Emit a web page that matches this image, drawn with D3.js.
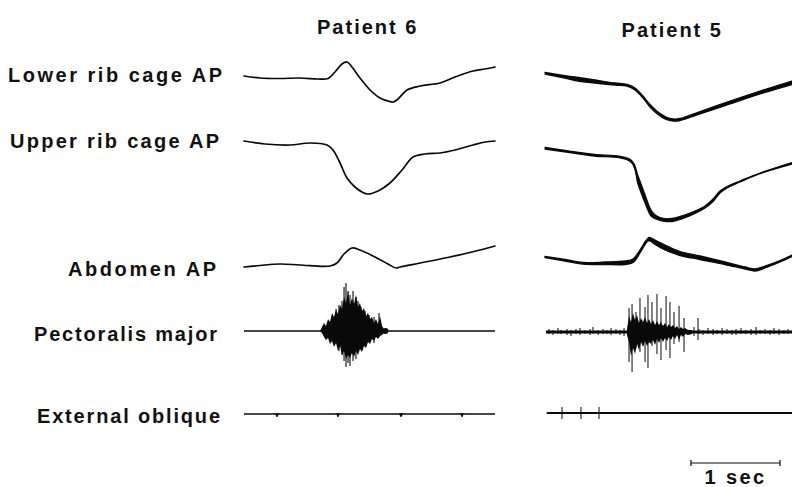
<!DOCTYPE html>
<html><head><meta charset="utf-8">
<script src="https://cdn.jsdelivr.net/npm/d3@7"></script>
<style>
html,body{margin:0;padding:0;background:#fff;}
text{font-family:"Liberation Sans",Arial,sans-serif;font-weight:700;fill:#111;}
</style></head>
<body><svg id="c" width="792" height="487"></svg>
<script>
// ---------------- DATA ----------------
const patients = ["Patient 6", "Patient 5"];
const channels = ["Lower rib cage AP", "Upper rib cage AP", "Abdomen AP", "Pectoralis major", "External oblique"];
const scaleBarSec = 1;
const scaleBarLabel = "1 sec";

// Patient 6 (time s, displacement in arbitrary units, up = positive)
const p6LowerT = [0,0.180,0.404,0.629,0.831,0.944,1.022,1.101,1.157,1.213,1.303,1.416,1.528,1.618,1.674,1.730,1.831,1.978,2.202,2.371,2.573,2.708,2.820];
const p6LowerV = [2,0,-0.5,0,-1,-0.5,6,14,16,11,0,-12,-20,-23,-24,-21,-12,-8,-5,1,7,9,11];

const p6UpperT = [0,0.236,0.517,0.742,0.933,1.000,1.079,1.157,1.247,1.326,1.393,1.506,1.640,1.775,1.899,2.034,2.202,2.371,2.573,2.708,2.820];
const p6UpperV = [4,1,0,2,0,-5,-18,-33,-42,-47,-49,-46,-38,-25,-12,-9,-8,-5,0,3,4];

const p6AbdT = [0,0.180,0.404,0.629,0.966,1.045,1.124,1.213,1.303,1.472,1.618,1.708,1.753,1.978,2.315,2.652,2.820];
const p6AbdV = [-2,-0.5,1,0,-1,2,11,17,15,8,1,-3,-2,2,8,15,19];

// EMG envelope: [time, upward amplitude, downward amplitude]
const p6PecEnv = [[0.854,0,0],[0.876,4,2],[0.899,8,6],[0.921,5,9],[0.944,12,7],[0.966,9,13],[0.989,18,10],[1.011,14,16],[1.034,21,12],[1.056,17,20],[1.079,26,15],[1.101,22,24],[1.124,34,20],[1.146,28,28],[1.169,40,24],[1.191,26,27],[1.213,33,22],[1.236,27,26],[1.258,36,20],[1.281,24,24],[1.303,28,18],[1.326,20,21],[1.348,23,15],[1.371,15,17],[1.393,18,11],[1.416,12,13],[1.438,14,8],[1.461,8,10],[1.483,12,6],[1.506,7,8],[1.528,15,5],[1.551,5,4],[1.573,2,2],[1.596,0,0]];
const p6PecSpikes = [[1.034,22,10],[1.067,26,20],[1.101,30,24],[1.124,44,30],[1.146,48,36],[1.169,40,32],[1.191,36,35],[1.225,40,30],[1.258,34,28],[1.281,30,20],[1.315,24,18],[1.360,20,14],[1.404,16,10],[1.461,14,12],[1.517,18,6]];
const p6PecBlob = [[1.590,0]];
const p6ExtSpikes = [[0.371,1,3],[1.056,1,3],[1.764,1,3],[2.449,1,3]];

// Patient 5 (two pen edges: top, bottom)
const p5LowerT = [0,0.169,0.337,0.562,0.787,0.921,1.011,1.101,1.180,1.270,1.360,1.438,1.517,1.742,2.079,2.416,2.775];
const p5LowerTop = [5.5,3,1,-2,-5,-6.5,-10,-18,-26.5,-34,-39,-41,-40.5,-33.5,-23,-13,-3];
const p5LowerBot = [4,1,-2.5,-5,-7,-8,-12,-20,-29,-36.5,-41.5,-43,-42.5,-36,-26,-16,-6.5];

const p5UpperT = [0,0.506,0.966,1.045,1.124,1.191,1.247,1.326,1.427,1.551,1.685,1.798,1.888,1.966,2.056,2.191,2.416,2.775];
const p5UpperTop = [-2.5,-9,-15,-31,-50,-65,-70.5,-73.5,-73.5,-70.5,-66,-61,-54,-46,-41,-36,-28,-17.5];
const p5UpperBot = [-4,-10.5,-17,-39,-58,-71,-74,-76,-76.5,-73.5,-68.5,-63,-56.5,-48,-42.5,-37,-28.6,-19];

const p5AbdT = [0,0.225,0.427,0.674,0.899,0.989,1.067,1.135,1.169,1.236,1.348,1.517,1.742,2.022,2.247,2.360,2.472,2.640,2.775];
const p5AbdTop = [8.5,5.5,2.5,3,4,6,15,24.5,27.5,25,20,13.5,9,3,-2,-4,-1,4.5,10];
const p5AbdBot = [7.5,4,1,0.5,0.5,2.5,12,22,24.5,20.5,15,9.5,5.5,0.5,-4,-6,-3,3,8.5];

const p5PecEnv = [[0.921,3,3],[0.944,16,10],[0.966,10,24],[0.989,19,16],[1.011,12,22],[1.034,17,12],[1.056,9,18],[1.079,14,10],[1.101,10,15],[1.124,15,9],[1.146,9,14],[1.169,13,10],[1.191,8,12],[1.213,12,8],[1.236,7,13],[1.258,11,7],[1.281,7,11],[1.303,10,6],[1.326,6,10],[1.348,9,6],[1.371,5,9],[1.393,8,5],[1.416,5,8],[1.438,7,4],[1.461,4,7],[1.483,6,3],[1.506,3,8],[1.528,5,3],[1.551,3,5],[1.573,4,2],[1.607,2,3],[1.652,2,2]];
const p5PecSpikes = [[0.944,24,30],[0.978,28,40],[1.022,20,16],[1.067,34,20],[1.124,25,30],[1.157,37,36],[1.202,30,14],[1.258,38,22],[1.303,24,28],[1.360,36,18],[1.404,30,26],[1.449,20,12],[1.506,26,10],[1.562,14,20],[1.719,14,8]];
const p5PecNoise = [[0.045,3,2],[0.090,2,3],[0.146,4,2],[0.180,2,2],[0.247,3,3],[0.292,2,4],[0.348,3,2],[0.393,4,3],[0.449,2,2],[0.506,3,3],[0.539,5,2],[0.596,2,3],[0.652,3,2],[0.697,2,2],[0.742,4,3],[0.798,3,2],[0.843,2,3],[0.888,4,4],[1.674,5,4],[1.730,3,2],[1.775,2,3],[1.831,4,2],[1.888,3,3],[1.933,2,2],[1.989,4,3],[2.045,3,2],[2.101,2,3],[2.146,3,3],[2.202,4,2],[2.258,2,2],[2.315,3,3],[2.371,5,3],[2.416,2,2],[2.472,3,2],[2.528,2,3],[2.573,4,2],[2.629,3,3],[2.685,2,2],[2.730,3,2]];
const p5ExtSpikes = [[0.191,6,6],[0.404,6,6],[0.607,6,6]];

// ---------------- LAYOUT ----------------
const svg = d3.select("#c");
svg.append("rect").attr("width",792).attr("height",487).attr("fill","#fff");

const x6 = d3.scaleLinear().domain([0, 2.82]).range([244, 495]);
const x5 = d3.scaleLinear().domain([0, 2.775]).range([545, 792]);
const rowY = d3.scaleOrdinal().domain(channels).range([78, 145, 265, 331, 414]);
const rowY5 = d3.scaleOrdinal().domain(channels).range([78, 145, 265, 332, 413]);
const amp = d3.scaleLinear().domain([0, 1]).range([0, -1]);

const ink = "#0a0a0a";

function drawLine(x, base, T, V, w) {
  const line = d3.line().x((d,i)=>x(T[i])).y((d)=>base + amp(d)).curve(d3.curveCatmullRom.alpha(0.5));
  svg.append("path").datum(V).attr("d", line).attr("fill","none").attr("stroke",ink)
    .attr("stroke-width", w).attr("stroke-linejoin","round").attr("stroke-linecap","round");
}
function drawBand(x, base, T, top, bot) {
  const data = T.map((t,i)=>({t, a: top[i], b: bot[i]}));
  const area = d3.area().x(d=>x(d.t)).y0(d=>base+amp(d.b)).y1(d=>base+amp(d.a)).curve(d3.curveCatmullRom.alpha(0.5));
  svg.append("path").datum(data).attr("d", area).attr("fill", ink);
  drawLine(x, base, T, top, 1.3);
  drawLine(x, base, T, bot, 1.3);
}
function drawEMG(x, base, t0, t1, env, spikes, baseW, spikeW) {
  svg.append("line").attr("x1", x(t0)).attr("x2", x(t1)).attr("y1", base).attr("y2", base)
    .attr("stroke", ink).attr("stroke-width", baseW);
  if (env) {
    const area = d3.area().x(d=>x(d[0])).y0(d=>base+d[2]).y1(d=>base-d[1]).curve(d3.curveLinear);
    svg.append("path").datum(env).attr("d", area).attr("fill", ink);
  }
  svg.selectAll(null).data(spikes).enter().append("line")
    .attr("x1", d=>x(d[0])).attr("x2", d=>x(d[0]))
    .attr("y1", d=>base - d[1]).attr("y2", d=>base + d[2])
    .attr("stroke", ink).attr("stroke-width", spikeW || 1.1);
}

// Patient 6
drawLine(x6, rowY(channels[0]), p6LowerT, p6LowerV, 1.7);
drawLine(x6, rowY(channels[1]), p6UpperT, p6UpperV, 1.7);
drawLine(x6, rowY(channels[2]), p6AbdT, p6AbdV, 1.7);
drawEMG(x6, rowY(channels[3]), 0, 2.82, p6PecEnv, p6PecSpikes, 1.6, 1.1);
svg.selectAll(null).data(p6PecBlob).enter().append("circle")
  .attr("cx", d=>x6(d[0])).attr("cy", d=>rowY(channels[3]) + d[1]).attr("r", 3).attr("fill", ink);
drawEMG(x6, rowY(channels[4]), 0, 2.82, null, p6ExtSpikes, 1.3, 1.1);
svg.selectAll(null).data(p6ExtSpikes).enter().append("path")
  .attr("d", d=>{const cx=x6(d[0]), cy=rowY(channels[4]); return `M${cx-2.5},${cy-0.5}L${cx+2.5},${cy-0.5}L${cx},${cy+d[2]}Z`;})
  .attr("fill", ink);

// Patient 5
drawBand(x5, rowY5(channels[0]), p5LowerT, p5LowerTop, p5LowerBot);
drawBand(x5, rowY5(channels[1]), p5UpperT, p5UpperTop, p5UpperBot);
drawBand(x5, rowY5(channels[2]), p5AbdT, p5AbdTop, p5AbdBot);
drawEMG(x5, rowY5(channels[3]), 0.01, 2.775, p5PecEnv, p5PecSpikes, 3, 1);
svg.selectAll(null).data(p5PecNoise).enter().append("line")
  .attr("x1", d=>x5(d[0])).attr("x2", d=>x5(d[0]))
  .attr("y1", d=>rowY5(channels[3]) - d[1]).attr("y2", d=>rowY5(channels[3]) + d[2])
  .attr("stroke", ink).attr("stroke-width", 1);
drawEMG(x5, rowY5(channels[4]), 0.02, 2.775, null, p5ExtSpikes, 2.2, 1);

// Titles
const fs = 20;
svg.append("text").attr("x", x6(1.39)).attr("y", 34).attr("text-anchor","middle")
  .attr("font-size", fs).attr("letter-spacing", 2).text(patients[0]);
svg.append("text").attr("x", x5(1.43)).attr("y", 37).attr("text-anchor","middle")
  .attr("font-size", fs).attr("letter-spacing", 2).text(patients[1]);

// Channel labels
const labelBaselines = [82, 148, 276, 341, 423];
const labelLeft = [8, 10, 68, 34, 37];
const labelWidth = [214, 209, 148, 183, 183];
channels.forEach((c, i) => {
  svg.append("text").attr("x", labelLeft[i]).attr("y", labelBaselines[i])
    .attr("font-size", fs).attr("textLength", labelWidth[i]).attr("lengthAdjust", "spacing").text(c);
});

// Scale bar
const sb0 = 1.64, sb1 = sb0 + scaleBarSec, sbY = 463;
svg.append("line").attr("x1", x5(sb0)).attr("x2", x5(sb1)).attr("y1", sbY).attr("y2", sbY).attr("stroke", ink).attr("stroke-width", 1.2);
[sb0, sb1].forEach(t => svg.append("line").attr("x1", x5(t)).attr("x2", x5(t)).attr("y1", sbY-3).attr("y2", sbY+3).attr("stroke", ink).attr("stroke-width", 1.2));
svg.append("text").attr("x", x5((sb0+sb1)/2)).attr("y", 484).attr("text-anchor","middle")
  .attr("font-size", fs).attr("letter-spacing", 2.4).text(scaleBarLabel);
</script></body></html>
